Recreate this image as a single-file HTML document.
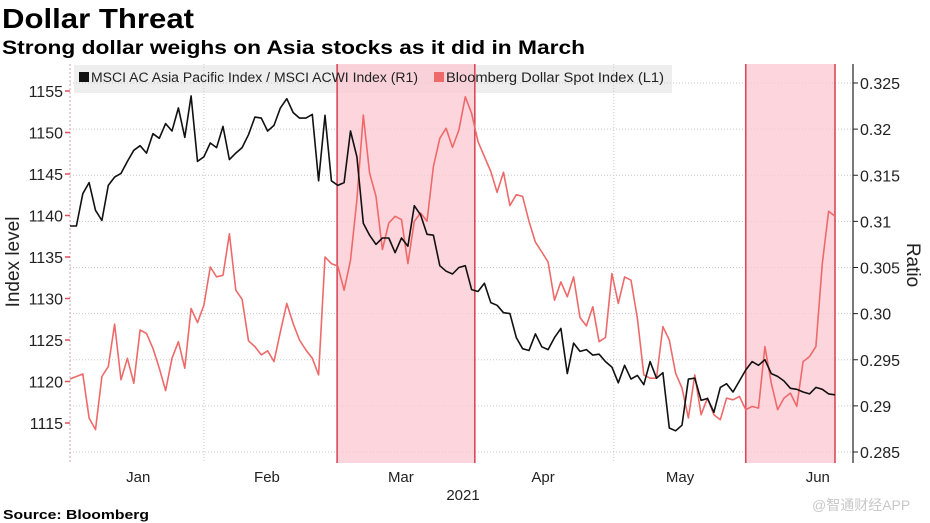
<!DOCTYPE html>
<html><head><meta charset="utf-8">
<style>
html,body{margin:0;padding:0;background:#fff;}
svg{display:block;font-family:"Liberation Sans","Noto Sans CJK SC",sans-serif;}
</style></head>
<body>
<svg id="chart" width="930" height="523" viewBox="0 0 930 523">
<text x="2" y="28" font-size="28" font-weight="bold" textLength="192" lengthAdjust="spacingAndGlyphs">Dollar Threat</text>
<text x="2" y="54" font-size="19" font-weight="bold" textLength="583" lengthAdjust="spacingAndGlyphs">Strong dollar weighs on Asia stocks as it did in March</text>
<g id="plot"></g>
<text x="3" y="519" font-size="13" font-weight="bold" textLength="146" lengthAdjust="spacingAndGlyphs">Source: Bloomberg</text>
<text x="812" y="510" font-size="14" fill="#c8c8c8">@智通财经APP</text>
</svg>
<script>
const blackRatio=[0.3095,0.3095,0.3130,0.3142,0.3112,0.3101,0.3139,0.3148,0.3152,0.3165,0.3177,0.3182,0.3174,0.3195,0.3190,0.3206,0.3198,0.3223,0.3191,0.3236,0.3165,0.3170,0.3185,0.3180,0.3203,0.3167,0.3174,0.3180,0.3194,0.3213,0.3212,0.3198,0.3204,0.3223,0.3233,0.3218,0.3212,0.3212,0.3216,0.3144,0.3215,0.3144,0.3139,0.3142,0.3198,0.3170,
0.3098,0.3085,0.3075,0.3082,0.3082,0.3066,0.3082,0.3073,0.3117,0.3107,0.3086,0.3085,0.3052,0.3046,0.3043,0.3050,0.3052,0.3026,0.3024,0.3033,0.3012,0.3009,0.3001,0.3000,0.2974,0.2962,0.2960,0.2978,0.2964,0.2961,0.2974,0.2984,0.2935,0.2968,0.2959,0.2961,0.2955,0.2956,0.2948,
0.2942,0.2925,0.2944,0.2929,0.2933,0.2923,0.2948,0.2930,0.2936,0.2876,0.2873,0.2879,0.2929,0.2930,0.2906,0.2908,0.2893,0.2920,0.2924,0.2915,0.2927,0.2939,0.2948,0.2944,0.2950,0.2935,0.2932,0.2927,0.2919,0.2918,0.2915,0.2913,0.2920,0.2918,0.2913,0.2912];
const dollarIndex=[1120.3,1120.6,1120.9,1115.6,1114.2,1120.6,1121.8,1126.9,1120.2,1122.8,1119.8,1126.2,1125.8,1124.0,1121.6,1118.9,1122.8,1124.8,1121.6,1128.8,1127.1,1129.2,1133.8,1132.6,1132.8,1137.8,1131.0,1129.9,1124.9,1124.2,1123.2,1123.7,1122.4,1126.0,1129.4,1127.0,1125.0,1123.8,1122.8,1120.8,1135.0,1134.2,1133.9,1131.0,1134.6,1141.9,
1152.1,1145.1,1142.3,1135.9,1139.1,1139.9,1139.5,1134.2,1139.3,1140.3,1139.3,1145.9,1149.3,1150.5,1148.2,1150.3,1154.3,1152.3,1148.9,1147.1,1145.3,1142.8,1145.2,1141.2,1142.5,1142.3,1139.3,1136.8,1135.6,1134.4,1129.8,1132.0,1130.2,1132.6,1127.7,1126.7,1129.0,1124.8,1125.3,
1133.0,1129.4,1132.6,1132.2,1127.6,1120.8,1120.4,1120.4,1126.6,1125.0,1121.0,1119.2,1115.6,1120.8,1116.0,1118.0,1116.0,1115.4,1118.0,1117.8,1118.2,1116.6,1117.0,1116.8,1124.2,1119.8,1116.6,1118.0,1118.6,1117.0,1122.4,1123.0,1124.2,1134.2,1140.5,1139.9];
const leftTicks=[1115,1120,1125,1130,1135,1140,1145,1150,1155];
const rightTicks=[0.285,0.29,0.295,0.30,0.305,0.31,0.315,0.32,0.325];
const rightTickLabels=["0.285","0.29","0.295","0.30","0.305","0.31","0.315","0.32","0.325"];
const monthLabels=["Jan","Feb","Mar","Apr","May","Jun"];
const monthLabelIdx=[10.7,30.9,51.9,74.2,95.7,117.3];
const monthGridIdx=[21.0,41.9,63.5,85.3,106.0];
const shadeStart=[41.9,106.0];
const shadeEnd=[63.5,120];

const NS="http://www.w3.org/2000/svg";
const plot=document.getElementById('plot');
const X0=70,X1=835,N=blackRatio.length;
const xAt=i=>X0+i*(X1-X0)/(N-1);
const yL=v=>423-(v-1115)*8.3;
const yR=v=>452-(v-0.285)*9225;
function mk(tag,attrs,parent){const e=document.createElementNS(NS,tag);for(const k in attrs)e.setAttribute(k,attrs[k]);(parent||plot).appendChild(e);return e;}

let lg=mk('rect',{x:74,y:65,width:598,height:28,fill:'#eeeeee'});



rightTicks.forEach((v,i)=>{
  let g=mk('line',{x1:X0,x2:853,y1:yR(v),y2:yR(v),stroke:'#c8c8c8','stroke-dasharray':'1,2','stroke-width':1});
  
  
});
monthGridIdx.forEach(i=>{
  let g=mk('line',{x1:xAt(i),x2:xAt(i),y1:64,y2:463,stroke:'#c8c8c8','stroke-dasharray':'1,2','stroke-width':1});
  
  
});

for(let s=0;s<shadeStart.length;s++){
  const xa=xAt(shadeStart[s]),xb=xAt(shadeEnd[s]);
  let r=mk('rect',{x:xa,y:64,width:xb-xa,height:399,fill:'#fcc8d2','fill-opacity':0.75});
  
  
  let l1=mk('line',{x1:xa,x2:xa,y1:64,y2:463,stroke:'#d94a5a','stroke-width':1.6});
  
  
  let l2=mk('line',{x1:xb,x2:xb,y1:64,y2:463,stroke:'#d94a5a','stroke-width':1.6});
  
  
}

let la=mk('line',{x1:70,x2:70,y1:64,y2:463,stroke:'#d9a0a8','stroke-width':1,'stroke-dasharray':'2,2'});


leftTicks.forEach(v=>{
  let t=mk('line',{x1:65,x2:70,y1:yL(v),y2:yL(v),stroke:'#e0505a','stroke-width':1.5});
  
  
  let tx=mk('text',{x:63,y:yL(v)+6,'font-size':16,'text-anchor':'end',fill:'#222'});
  tx.textContent=v;
  
  
});
let ylt=mk('text',{x:0,y:0,'font-size':19,'text-anchor':'middle',fill:'#222',transform:'translate(19,262) rotate(-90)'});
ylt.textContent='Index level';



let ra=mk('line',{x1:853,x2:853,y1:64,y2:463,stroke:'#222','stroke-width':1.2});


rightTicks.forEach((v,i)=>{
  let t=mk('line',{x1:853,x2:858,y1:yR(v),y2:yR(v),stroke:'#222','stroke-width':1});
  
  
  let tx=mk('text',{x:860,y:yR(v)+6,'font-size':16,fill:'#222'});
  tx.textContent=rightTickLabels[i];
  
  
});
let yrt=mk('text',{x:0,y:0,'font-size':19,'text-anchor':'middle',fill:'#222',transform:'translate(907,265) rotate(90)'});
yrt.textContent='Ratio';



monthLabels.forEach((m,i)=>{
  let tx=mk('text',{x:xAt(monthLabelIdx[i]),y:482,'font-size':15,'text-anchor':'middle',fill:'#222'});
  tx.textContent=m;
  
  
});
let yr=mk('text',{x:463,y:500,'font-size':15,'text-anchor':'middle',fill:'#222'});
yr.textContent='2021';



let redPts=dollarIndex.map((v,i)=>xAt(i).toFixed(1)+','+yL(v).toFixed(1)).join(' ');
let red=mk('polyline',{points:redPts,fill:'none',stroke:'#ee6a6a','stroke-width':1.6,'stroke-linejoin':'round'});


let blkPts=blackRatio.map((v,i)=>xAt(i).toFixed(1)+','+yR(v).toFixed(1)).join(' ');
let blk=mk('polyline',{points:blkPts,fill:'none',stroke:'#111','stroke-width':1.6,'stroke-linejoin':'round'});



let ls1=mk('rect',{x:79,y:72,width:10,height:10,fill:'#111'});


let lt1=mk('text',{x:91,y:82,'font-size':13.5,fill:'#222',textLength:327,lengthAdjust:'spacingAndGlyphs'});
lt1.textContent='MSCI AC Asia Pacific Index / MSCI ACWI Index (R1)';


let ls2=mk('rect',{x:434,y:72,width:10,height:10,fill:'#ee6a6a'});


let lt2=mk('text',{x:446,y:82,'font-size':13.5,fill:'#222',textLength:218,lengthAdjust:'spacingAndGlyphs'});
lt2.textContent='Bloomberg Dollar Spot Index (L1)';


</script>
</body></html>
